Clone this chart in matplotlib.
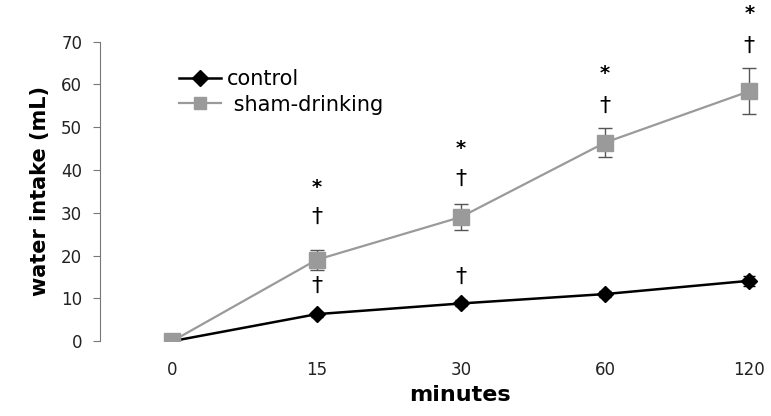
import matplotlib
matplotlib.use("Agg")
import matplotlib.pyplot as plt
from matplotlib.lines import Line2D

minutes = ["0", "15", "30", "60", "120"]
control = [0, 6.3, 8.8, 11.0, 14.1]
control_err = [0, 0.6, 0.7, 0.8, 1.2]
sham = [0, 19.0, 29.0, 46.4, 58.4]
sham_err = [0, 2.3, 3.0, 3.4, 5.4]

# significance marks above each time point
star_y = [None, 36.0, 45.0, 62.5, 76.6]
dagger_y = [None, 29.0, 38.0, 55.0, 69.0]
dagger_low_y = [None, 13.0, 15.0, None, None]

x = list(range(len(minutes)))

fig = plt.figure(figsize=(7.71, 4.16), dpi=100)
ax = fig.add_axes([0.13, 0.18, 0.87, 0.72])

ax.errorbar(x, control, yerr=control_err, color="black", ecolor="black",
            marker="D", markersize=8, linewidth=1.8, capsize=4,
            elinewidth=1, zorder=3)
ax.errorbar(x, sham, yerr=sham_err, color="#9a9a9a", ecolor="#555555",
            marker="s", markersize=11, linewidth=1.6, capsize=5,
            elinewidth=1, zorder=4)

for i in x:
    if star_y[i] is not None:
        ax.text(i, star_y[i], "*", ha="center", va="center", fontsize=14,
                fontweight="bold", clip_on=False)
    if dagger_y[i] is not None:
        ax.text(i, dagger_y[i], "†", ha="center", va="center", fontsize=16,
                clip_on=False)
    if dagger_low_y[i] is not None:
        ax.text(i, dagger_low_y[i], "†", ha="center", va="center", fontsize=16,
                clip_on=False)

ax.set_xlim(-0.5, 4.15)
ax.set_ylim(0, 70)
ax.set_yticks(range(0, 71, 10))
ax.set_xticks(x)
ax.set_xticklabels(minutes)

for s in ["top", "right", "bottom"]:
    ax.spines[s].set_visible(False)
ax.spines["left"].set_color("#777777")
ax.tick_params(axis="x", length=0, pad=14, labelsize=12, colors="#222222")
ax.tick_params(axis="y", direction="out", length=5, color="#777777",
               labelsize=12, colors="#222222", pad=8)

ax.set_xlabel("minutes", fontsize=16, fontweight="bold")
ax.xaxis.set_label_coords(0.537, -0.145)
ax.set_ylabel("water intake (mL)", fontsize=15, fontweight="bold", labelpad=8)

handles = [
    Line2D([], [], color="black", marker="D", markersize=8, linewidth=1.8),
    Line2D([], [], color="#9a9a9a", marker="s", markersize=9, linewidth=1.6),
]
ax.legend(handles, ["control", " sham-drinking"], loc="upper left",
          bbox_to_anchor=(0.09, 0.97), frameon=False, fontsize=15,
          handlelength=2.0, handletextpad=0.3, labelspacing=0.25)

fig.savefig("out.png", dpi=100)
